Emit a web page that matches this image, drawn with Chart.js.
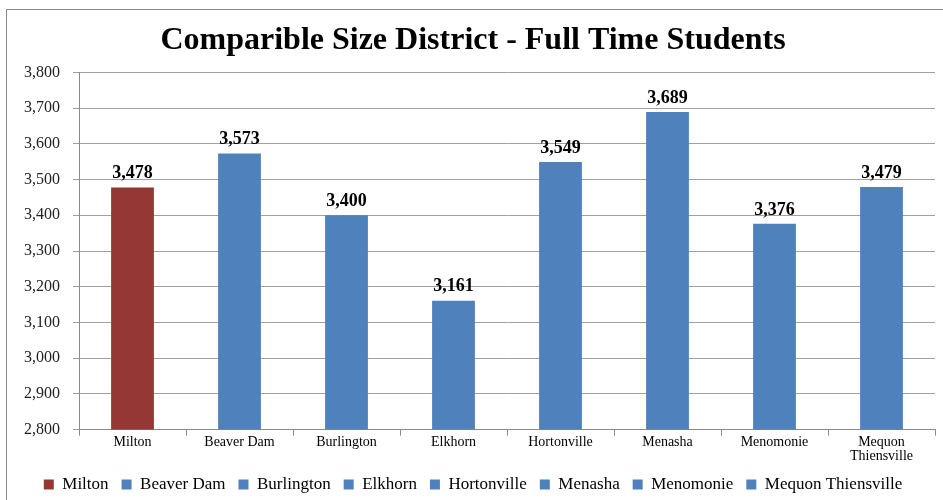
<!DOCTYPE html>
<html>
<head>
<meta charset="utf-8">
<script src="https://cdn.jsdelivr.net/npm/chart.js@4/dist/chart.umd.min.js"></script>
<style>
  html, body { margin: 0; padding: 0; background: #fff; overflow: hidden; }
  #frame { position: absolute; left: 6px; top: 9px; width: 960px; height: 520px; border: 1px solid #8a8a8a; }
  #wrap { position: absolute; left: 0; top: 0; width: 937px; height: 490px; }
</style>
</head>
<body>
<div id="frame"><div id="wrap"><canvas id="chart"></canvas></div></div>
<script>
// === Dados ===
const categories = ["Milton", "Beaver Dam", "Burlington", "Elkhorn", "Hortonville", "Menasha", "Menomonie", "Mequon Thiensville"];
const tickLabels = ["Milton", "Beaver Dam", "Burlington", "Elkhorn", "Hortonville", "Menasha", "Menomonie", ["Mequon", "Thiensville"]];
const students = [3478, 3573, 3400, 3161, 3549, 3689, 3376, 3479];
const barColors = ["#953735", "#4f81bd", "#4f81bd", "#4f81bd", "#4f81bd", "#4f81bd", "#4f81bd", "#4f81bd"];
const yMin = 2800, yMax = 3800, yStep = 100;

const serif = "'Liberation Serif', 'DejaVu Serif', serif";
const fmt = v => v.toLocaleString('en-US');

// rótulos de valor acima das barras
const valueLabels = {
  id: 'valueLabels',
  afterDatasetsDraw(chart) {
    const ctx = chart.ctx;
    const meta = chart.getDatasetMeta(0);
    ctx.save();
    ctx.font = "bold 18px " + serif;
    ctx.fillStyle = "#000";
    ctx.textAlign = "center";
    ctx.textBaseline = "bottom";
    meta.data.forEach((bar, i) => {
      ctx.fillText(fmt(students[i]), bar.x, bar.y - 5);
    });
    ctx.restore();
  }
};

new Chart(document.getElementById('chart'), {
  type: 'bar',
  data: {
    labels: tickLabels,
    datasets: [{
      data: students,
      backgroundColor: barColors,
      borderWidth: 0,
      barPercentage: 0.4,
      categoryPercentage: 1
    }]
  },
  options: {
    responsive: true,
    maintainAspectRatio: false,
    animation: false,
    layout: { padding: { left: 4, right: 9, top: 6, bottom: -3 } },
    plugins: {
      title: {
        display: true,
        text: "Comparible Size District - Full Time Students",
        color: "#000",
        font: { family: serif, size: 32, weight: 'bold' },
        padding: { top: 6, bottom: 12 }
      },
      legend: {
        position: 'bottom',
        labels: {
          font: { family: serif, size: 17 },
          color: "#000",
          boxWidth: 10,
          boxHeight: 10,
          padding: 13,
          generateLabels: () => categories.map((c, i) => ({
            text: c,
            fillStyle: barColors[i],
            strokeStyle: barColors[i],
            lineWidth: 0,
            index: i
          }))
        },
        onClick: () => {}
      },
      tooltip: { enabled: false }
    },
    scales: {
      x: {
        grid: { display: true, drawOnChartArea: false, offset: true, color: "#8a8a8a", tickLength: 6 },
        border: { color: "#8a8a8a" },
        ticks: { color: "#000", font: { family: serif, size: 14, lineHeight: 1.05 }, maxRotation: 0, autoSkip: false, padding: -1 }
      },
      y: {
        min: yMin,
        max: yMax,
        grid: { color: "#a0a0a0", tickLength: 6 },
        border: { color: "#8a8a8a" },
        ticks: { stepSize: yStep, color: "#222", font: { family: serif, size: 16 }, callback: v => fmt(v), padding: 13 }
      }
    }
  },
  plugins: [valueLabels]
});
</script>
</body>
</html>
